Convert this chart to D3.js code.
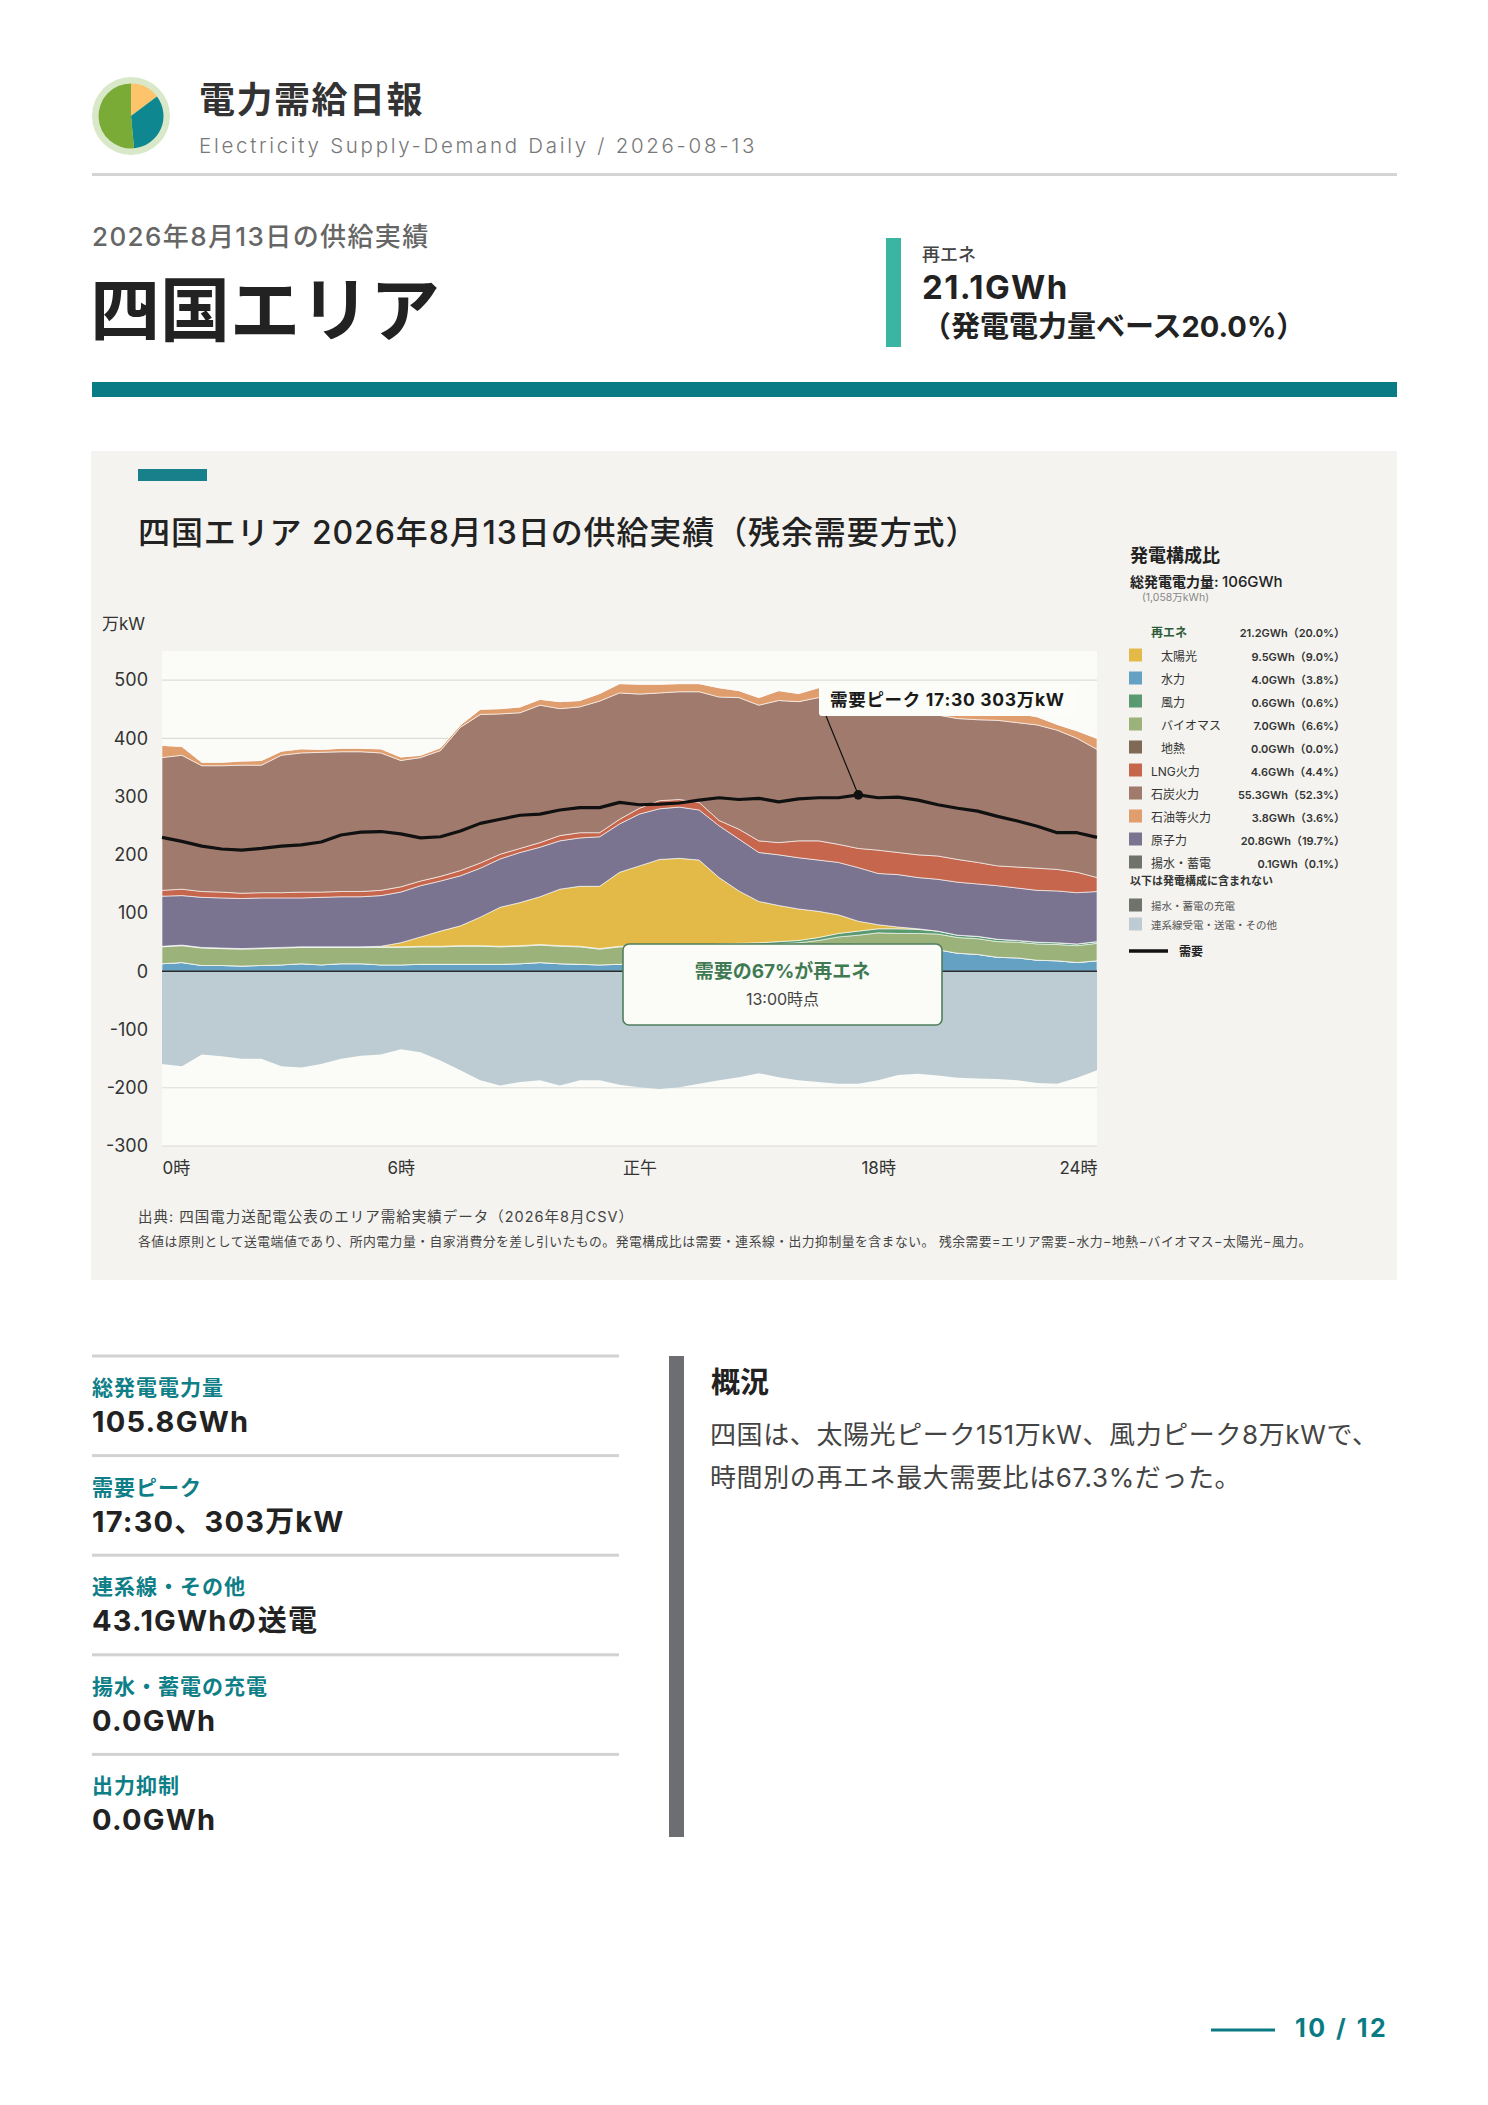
<!DOCTYPE html>
<html lang="ja">
<head>
<meta charset="utf-8">
<title>電力需給日報 四国エリア</title>
<script src="https://cdn.jsdelivr.net/npm/d3@7"></script>
<style>
  body { margin: 0; background: #fff; }
  svg text { font-family: Inter, "Noto Sans CJK JP", "Noto Sans", sans-serif; }
</style>
</head>
<body>
<svg id="page" width="1488" height="2105"></svg>
<script>
// ---- data (万kW, 30-minute values) ----
const times = ['0:00','0:30','1:00','1:30','2:00','2:30','3:00','3:30','4:00','4:30','5:00','5:30',
  '6:00','6:30','7:00','7:30','8:00','8:30','9:00','9:30','10:00','10:30','11:00','11:30',
  '12:00','12:30','13:00','13:30','14:00','14:30','15:00','15:30','16:00','16:30','17:00','17:30',
  '18:00','18:30','19:00','19:30','20:00','20:30','21:00','21:30','22:00','22:30','23:00','23:30']

const hydro = [13,15,10,10,9,10,11,13,11,13,13,11,
  11,12,12,12,12,12,13,15,13,12,11,12,
  12,11,12,12,14,15,16,18,20,24,30,33,
  37,37,37,37,31,29,24,23,19,18,15,18]
const geothermal = [0,0,0,0,0,0,0,0,0,0,0,0, 0,0,0,0,0,0,0,0,0,0,0,0,
  0,0,0,0,0,0,0,0,0,0,0,0, 0,0,0,0,0,0,0,0,0,0,0,0]
const biomass = [29,29,30,29,29,29,29,28,30,28,28,30,
  30,30,30,31,31,30,30,30,30,30,27,30,
  30,30,30,30,29,29,29,29,29,29,29,29,
  29,28,28,27,27,27,27,27,28,28,29,30]
const wind = [1,1,1,1,1,1,1,1,1,1,1,1,
  1,1,1,1,1,1,1,1,1,1,1,1,
  1,1,1,1,4,4,4,4,4,5,6,7,
  7,8,7,5,4,4,4,3,3,3,3,3]
const solar = [0,0,0,0,0,0,0,0,0,0,0,1,
  7,16,26,34,49,67,74,82,97,103,107,127,
  138,150,151,148,114,90,71,62,54,45,32,17,
  7,3,1,0,0,0,0,0,0,0,0,0]
const nuclear = [86,85,86,86,86,86,85,84,85,86,86,87,
  87,88,86,86,84,83,86,85,83,83,85,83,
  89,87,88,86,89,89,84,87,88,88,90,92,
  88,90,88,89,91,90,92,90,89,89,88,86]
const lng = [10,11,10,10,9,9,9,10,9,9,9,9,
  9,8,8,9,9,8,7,8,9,9,7,8,
  10,14,13,13,9,17,20,21,29,33,31,33,
  40,38,39,40,39,37,34,36,38,37,35,24]
const coal = [228,230,216,217,220,219,236,239,240,240,240,236,
  217,212,216,246,255,241,233,236,218,216,226,217,
  196,185,185,190,212,226,233,244,239,246,248,251,
  247,246,245,242,242,245,250,248,246,239,230,220]
const oil = [21,15,6,6,7,8,7,7,5,6,6,7,
  6,4,5,4,9,9,10,10,12,11,13,16,
  17,15,14,14,16,12,13,17,14,17,20,22,
  24,25,26,26,22,20,18,16,14,10,13,19]
const pumped = [0,0,0,0,0,0,0,0,0,0,0,0, 0,0,0,0,0,0,0,0,0,0,0,0,
  0,0,0,0,0,0,0,0,0,0,0,4, 6,6,4,0,0,0,0,0,0,0,0,0]
const pumpedCharge = [0,0,0,0,0,0,0,0,0,0,0,0, 0,0,0,0,0,0,0,0,0,0,0,0,
  0,0,0,0,0,0,0,0,0,0,0,0, 0,0,0,0,0,0,0,0,0,0,0,0]
const interconnect = [-159,-163,-143,-146,-150,-150,-163,-165,-159,-150,-145,-143,
  -134,-139,-153,-170,-187,-196,-190,-187,-196,-187,-187,-195,
  -199,-202,-199,-193,-187,-182,-175,-182,-187,-190,-193,-193,
  -187,-178,-176,-179,-183,-184,-185,-187,-192,-193,-183,-170]
const demand = [230,223,215,210,208,211,215,217,222,234,239,240,
  236,229,231,241,254,261,268,270,277,281,281,290,
  286,287,289,294,298,295,297,291,296,298,298,303,
  298,299,294,286,280,275,266,258,249,238,238,230]

const yTicks = [-300,-200,-100,0,100,200,300,400,500]
const xTickHours = [0, 6, 12, 18, 23.5]
const xTickLabels = ['0時','6時','正午','18時','24時']

const legendKeys = ['solar','hydro','wind','biomass','geothermal','lng','coal','oil','nuclear','pumped']
const legendLabels = ['太陽光','水力','風力','バイオマス','地熱','LNG火力','石炭火力','石油等火力','原子力','揚水・蓄電']
const legendValues = ['9.5GWh（9.0%）','4.0GWh（3.8%）','0.6GWh（0.6%）','7.0GWh（6.6%）','0.0GWh（0.0%）',
  '4.6GWh（4.4%）','55.3GWh（52.3%）','3.8GWh（3.6%）','20.8GWh（19.7%）','0.1GWh（0.1%）']
const legendIndent = [true,true,true,true,true,false,false,false,false,false]
const extraKeys = ['pumpedCharge','interconnect']
const extraLabels = ['揚水・蓄電の充電','連系線受電・送電・その他']

const statLabels = ['総発電電力量','需要ピーク','連系線・その他','揚水・蓄電の充電','出力抑制']
const statValues = ['105.8GWh','17:30、303万kW','43.1GWhの送電','0.0GWh','0.0GWh']

const logoShares = [14.7, 33.8, 51.5]
const logoColors = ['#fdc46c', '#0e8790', '#7aab36']

const colors = {
  hydro: '#65a1c2', geothermal: '#7e6a56', biomass: '#9cb27b', wind: '#5b9a70',
  solar: '#e3ba48', nuclear: '#7a7490', lng: '#c6664d', coal: '#a07b6d',
  oil: '#e09e6f', pumped: '#6f736c', pumpedCharge: '#6f736c', interconnect: '#bdcbd2'
}

// ---- page ----
const svg = d3.select('#page')
svg.append('rect').attr('width', 1488).attr('height', 2105).attr('fill', '#fff')

// logo
const logo = svg.append('g').attr('transform', 'translate(131,116)')
logo.append('circle').attr('r', 39).attr('fill', '#d8e8c9')
const pie = d3.pie().sort(null)
const arc = d3.arc().innerRadius(0).outerRadius(32.5)
logo.selectAll('path').data(pie(logoShares)).join('path')
  .attr('d', arc).attr('fill', (d, i) => logoColors[i])

svg.append('text').text('電力需給日報').attr('x', 199).attr('y', 113)
  .attr('font-size', 36).attr('font-weight', 700).attr('fill', '#333').attr('letter-spacing', 1.5)
svg.append('text').text('Electricity Supply-Demand Daily / 2026-08-13').attr('x', 199).attr('y', 153)
  .attr('font-size', 20.5).attr('font-weight', 300).attr('fill', '#777').attr('letter-spacing', 2.7)
svg.append('rect').attr('x', 92).attr('y', 173).attr('width', 1305).attr('height', 3).attr('fill', '#d4d4d4')

svg.append('text').text('2026年8月13日の供給実績').attr('x', 92).attr('y', 246)
  .attr('font-size', 26).attr('font-weight', 500).attr('fill', '#666').attr('letter-spacing', 1.4)
svg.append('text').text('四国エリア').attr('x', 90).attr('y', 336)
  .attr('font-size', 70).attr('font-weight', 700).attr('fill', '#222')

svg.append('rect').attr('x', 886).attr('y', 238).attr('width', 15).attr('height', 109).attr('fill', '#3ab5a2')
svg.append('text').text('再エネ').attr('x', 922).attr('y', 261)
  .attr('font-size', 18).attr('font-weight', 500).attr('fill', '#444')
svg.append('text').text('21.1GWh').attr('x', 922).attr('y', 299)
  .attr('font-size', 33).attr('font-weight', 700).attr('fill', '#222').attr('letter-spacing', 1.4)
svg.append('text').text('（発電電力量ベース20.0%）').attr('x', 922).attr('y', 337)
  .attr('font-size', 29).attr('font-weight', 700).attr('fill', '#222')

svg.append('rect').attr('x', 92).attr('y', 382).attr('width', 1305).attr('height', 15).attr('fill', '#087b84')

// ---- chart panel ----
svg.append('rect').attr('x', 91).attr('y', 451).attr('width', 1306).attr('height', 829).attr('fill', '#f4f3ef')
svg.append('rect').attr('x', 138).attr('y', 469).attr('width', 69).attr('height', 12).attr('fill', '#17808a')
svg.append('text').text('四国エリア 2026年8月13日の供給実績（残余需要方式）').attr('x', 138).attr('y', 544)
  .attr('font-size', 32).attr('font-weight', 500).attr('fill', '#222').attr('letter-spacing', 0.9)

const plot = { left: 162, right: 1097, top: 651, bottom: 1146 }
const toHours = s => { const p = s.split(':').map(Number); return p[0] + p[1] / 60 }

const x = d3.scaleLinear().domain([0, 23.5]).range([plot.left, plot.right])
const y = d3.scaleLinear().domain([-300, 550]).range([plot.bottom, plot.top])

svg.append('rect').attr('x', plot.left).attr('y', plot.top)
  .attr('width', plot.right - plot.left).attr('height', plot.bottom - plot.top).attr('fill', '#fbfbf7')

svg.append('g').selectAll('line').data(yTicks).join('line')
  .attr('x1', plot.left).attr('x2', plot.right)
  .attr('y1', d => y(d)).attr('y2', d => y(d))
  .attr('stroke', '#dcdcd8').attr('stroke-width', 1.2)

const rows = times.map((t, i) => ({
  t: toHours(t), hydro: hydro[i], geothermal: geothermal[i], biomass: biomass[i], wind: wind[i],
  solar: solar[i], nuclear: nuclear[i], lng: lng[i], coal: coal[i], oil: oil[i], pumped: pumped[i],
  pumpedCharge: pumpedCharge[i], interconnect: interconnect[i], demand: demand[i]
}))

// generation stacks upward from 0, charging / interconnect stack downward
const posKeys = ['hydro','geothermal','biomass','wind','solar','nuclear','lng','coal','oil','pumped']
const negKeys = ['pumpedCharge','interconnect']
const posSeries = d3.stack().keys(posKeys)(rows)
const negSeries = d3.stack().keys(negKeys)(rows)

const area = d3.area()
  .x(d => x(d.data.t))
  .y0(d => y(d[0]))
  .y1(d => y(d[1]))

svg.append('defs').append('clipPath').attr('id', 'plotClip')
  .append('rect').attr('x', plot.left).attr('y', plot.top)
  .attr('width', plot.right - plot.left).attr('height', plot.bottom - plot.top)

const areas = svg.append('g').attr('clip-path', 'url(#plotClip)')
areas.selectAll('path.neg').data(negSeries).join('path').attr('class', 'neg')
  .attr('d', area)
  .attr('fill', d => colors[d.key])
areas.selectAll('path.pos').data(posSeries).join('path').attr('class', 'pos')
  .attr('d', area)
  .attr('fill', d => colors[d.key])
  .attr('stroke', '#fff')
  .attr('stroke-opacity', 0.6)
  .attr('stroke-width', 1)

// zero line
svg.append('line').attr('x1', plot.left).attr('x2', plot.right)
  .attr('y1', y(0)).attr('y2', y(0)).attr('stroke', '#2a2a2a').attr('stroke-width', 1.6)

// demand line
const line = d3.line().x(d => x(d.t)).y(d => y(d.demand))
svg.append('path').datum(rows).attr('d', line)
  .attr('fill', 'none').attr('stroke', '#111').attr('stroke-width', 3.2).attr('stroke-linejoin', 'round')

// axes
svg.append('g').attr('transform', `translate(${plot.left},0)`)
  .call(d3.axisLeft(y).tickValues(yTicks).tickSize(0).tickPadding(14).tickFormat(d => String(d)))
  .call(g => g.select('.domain').remove())
  .call(g => g.selectAll('text').attr('font-size', 18).attr('fill', '#333'))

svg.append('g').attr('transform', `translate(0,${plot.bottom})`)
  .call(d3.axisBottom(x).tickValues(xTickHours).tickSize(0).tickFormat((d, i) => xTickLabels[i]))
  .call(g => g.select('.domain').remove())
  .call(g => g.selectAll('text').attr('font-size', 17).attr('fill', '#333').attr('y', 16)
    .attr('text-anchor', (d, i) => i === 0 ? 'start' : (i === xTickHours.length - 1 ? 'end' : 'middle')))

svg.append('text').text('万kW').attr('x', 102).attr('y', 630).attr('font-size', 17).attr('fill', '#333')

// peak annotation
const peakIdx = d3.maxIndex(demand)
const px = x(toHours(times[peakIdx])), py = y(demand[peakIdx])
svg.append('line').attr('x1', 826).attr('y1', 716).attr('x2', px).attr('y2', py)
  .attr('stroke', '#111').attr('stroke-width', 1.2)
svg.append('rect').attr('x', 819).attr('y', 685).attr('width', 258).attr('height', 31).attr('rx', 3)
  .attr('fill', '#fcfcf9')
svg.append('text').text(`需要ピーク ${times[peakIdx]} ${demand[peakIdx]}万kW`).attr('x', 830).attr('y', 706)
  .attr('font-size', 17.5).attr('font-weight', 700).attr('fill', '#1a1a1a').attr('letter-spacing', 0.7)
svg.append('circle').attr('cx', px).attr('cy', py).attr('r', 4.8).attr('fill', '#111')

// renewable share bubble
svg.append('rect').attr('x', 623).attr('y', 944).attr('width', 319).attr('height', 81).attr('rx', 6)
  .attr('fill', '#fbfbf8').attr('stroke', '#4f7f5d').attr('stroke-width', 1.6)
svg.append('text').text('需要の67%が再エネ').attr('x', 782.5).attr('y', 978).attr('text-anchor', 'middle')
  .attr('font-size', 19).attr('font-weight', 700).attr('fill', '#3f7a52')
svg.append('text').text('13:00時点').attr('x', 782.5).attr('y', 1005).attr('text-anchor', 'middle')
  .attr('font-size', 16).attr('fill', '#444')

// notes
svg.append('text').text('出典: 四国電力送配電公表のエリア需給実績データ（2026年8月CSV）')
  .attr('x', 138).attr('y', 1222).attr('font-size', 14.5).attr('fill', '#444').attr('letter-spacing', 1)
svg.append('text').text('各値は原則として送電端値であり、所内電力量・自家消費分を差し引いたもの。発電構成比は需要・連系線・出力抑制量を含まない。 残余需要=エリア需要−水力−地熱−バイオマス−太陽光−風力。')
  .attr('x', 138).attr('y', 1246).attr('font-size', 12.8).attr('fill', '#444').attr('letter-spacing', 0.5)

// ---- legend ----
const lg = svg.append('g')
lg.append('text').text('発電構成比').attr('x', 1130).attr('y', 562)
  .attr('font-size', 18).attr('font-weight', 700).attr('fill', '#222')
const tot = lg.append('text').attr('x', 1130).attr('y', 587).attr('fill', '#222')
tot.append('tspan').text('総発電電力量: ').attr('font-size', 14).attr('font-weight', 700)
tot.append('tspan').text('106GWh').attr('font-size', 15).attr('font-weight', 500)
lg.append('text').text('(1,058万kWh)').attr('x', 1142).attr('y', 601).attr('font-size', 10.5).attr('fill', '#888')

lg.append('text').text('再エネ').attr('x', 1151).attr('y', 637)
  .attr('font-size', 12).attr('font-weight', 700).attr('fill', '#2e5b3a')
lg.append('text').text('21.2GWh（20.0%）').attr('x', 1345).attr('y', 637).attr('text-anchor', 'end')
  .attr('font-size', 11).attr('font-weight', 600).attr('fill', '#333')

const rowsG = lg.selectAll('g.row').data(legendKeys).join('g').attr('class', 'row')
  .attr('transform', (d, i) => `translate(0,${660.5 + i * 23})`)
rowsG.append('rect').attr('x', 1129).attr('y', -12).attr('width', 13).attr('height', 13)
  .attr('fill', d => colors[d])
rowsG.append('text').text((d, i) => legendLabels[i])
  .attr('x', (d, i) => legendIndent[i] ? 1161 : 1151).attr('y', 0)
  .attr('font-size', 12).attr('fill', '#333')
rowsG.append('text').text((d, i) => legendValues[i]).attr('x', 1345).attr('y', 0).attr('text-anchor', 'end')
  .attr('font-size', 11).attr('font-weight', 600).attr('fill', '#333')

lg.append('text').text('以下は発電構成に含まれない').attr('x', 1130).attr('y', 885)
  .attr('font-size', 11).attr('font-weight', 700).attr('fill', '#333')
const exG = lg.selectAll('g.ex').data(extraKeys).join('g').attr('class', 'ex')
  .attr('transform', (d, i) => `translate(0,${910.5 + i * 19})`)
exG.append('rect').attr('x', 1129).attr('y', -12).attr('width', 13).attr('height', 13).attr('fill', d => colors[d])
exG.append('text').text((d, i) => extraLabels[i]).attr('x', 1151).attr('y', -1)
  .attr('font-size', 10.5).attr('fill', '#555')

lg.append('line').attr('x1', 1129).attr('x2', 1168).attr('y1', 951).attr('y2', 951)
  .attr('stroke', '#111').attr('stroke-width', 3.5)
lg.append('text').text('需要').attr('x', 1179).attr('y', 956)
  .attr('font-size', 12).attr('font-weight', 700).attr('fill', '#222')

// ---- bottom stats ----
const stats = svg.append('g').selectAll('g').data(statLabels).join('g')
  .attr('transform', (d, i) => `translate(92,${1356 + i * 99.6})`)
stats.append('rect').attr('x', 0).attr('y', -1.5).attr('width', 527).attr('height', 3).attr('fill', '#d2d2d2')
stats.append('text').text(d => d).attr('x', 0).attr('y', 39)
  .attr('font-size', 21).attr('font-weight', 700).attr('fill', '#0e7e87').attr('letter-spacing', 1)
stats.append('text').text((d, i) => statValues[i]).attr('x', 0).attr('y', 76)
  .attr('font-size', 29).attr('font-weight', 700).attr('fill', '#222').attr('letter-spacing', 1.2)

svg.append('rect').attr('x', 669).attr('y', 1356).attr('width', 15).attr('height', 481).attr('fill', '#6d6e72')
svg.append('text').text('概況').attr('x', 711).attr('y', 1393)
  .attr('font-size', 29).attr('font-weight', 700).attr('fill', '#222')
svg.append('text').text('四国は、太陽光ピーク151万kW、風力ピーク8万kWで、').attr('x', 710).attr('y', 1444)
  .attr('font-size', 26).attr('fill', '#444').attr('letter-spacing', 0.6)
svg.append('text').text('時間別の再エネ最大需要比は67.3%だった。').attr('x', 710).attr('y', 1487)
  .attr('font-size', 26).attr('fill', '#444').attr('letter-spacing', 0.6)

// page number
svg.append('line').attr('x1', 1211).attr('x2', 1275).attr('y1', 2030).attr('y2', 2030)
  .attr('stroke', '#0b7b83').attr('stroke-width', 3)
svg.append('text').text('10 / 12').attr('x', 1295).attr('y', 2037)
  .attr('font-size', 25).attr('font-weight', 700).attr('fill', '#0b7b83').attr('letter-spacing', 2.5)
</script>
</body>
</html>
